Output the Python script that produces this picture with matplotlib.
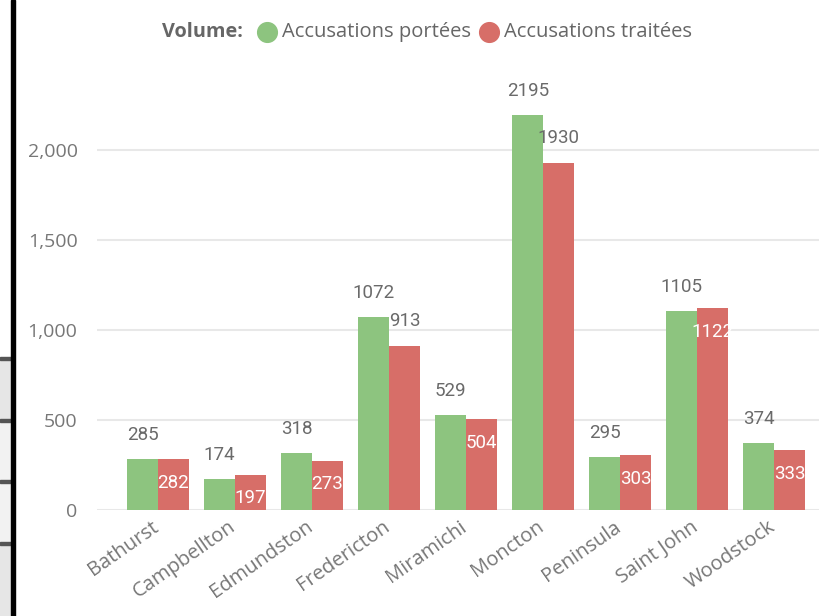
import matplotlib.pyplot as plt
from matplotlib.lines import Line2D
from matplotlib.patches import Rectangle
from matplotlib.transforms import ScaledTranslation
import numpy as np

districts = ['Bathurst', 'Campbellton', 'Edmundston', 'Fredericton', 'Miramichi',
             'Moncton', 'Peninsula', 'Saint John', 'Woodstock']
portees = [285, 174, 318, 1072, 529, 2195, 295, 1105, 374]
traitees = [282, 197, 273, 913, 504, 1930, 303, 1122, 333]
# where each "traitées" label sits (inside the bar top or above it)
traitees_pos = ['in', 'in', 'in', 'out', 'in', 'out', 'in', 'in', 'in']
series_names = ['Accusations portées', 'Accusations traitées']

GREEN = '#8DC47F'
RED = '#D76E68'
GRAY = '#777777'
W, H = 819, 616

plt.rcParams['font.family'] = ['Open Sans', 'DejaVu Sans']

fig = plt.figure(figsize=(W / 100, H / 100), dpi=100)
ax = fig.add_axes([97 / W, 1 - 510 / H, 1 - 97 / W, 430 / H])

x = np.arange(len(districts))
w = 0.4
b1 = ax.bar(x - w / 2, portees, w, color=GREEN, zorder=3)
b2 = ax.bar(x + w / 2, traitees, w, color=RED, zorder=3)

ax.set_xlim(-0.79, 8.58)
ax.set_ylim(0, 2000 * 430 / 360)
ax.set_yticks([0, 500, 1000, 1500, 2000])
ax.set_yticklabels(['0', '500', '1,000', '1,500', '2,000'])
ax.grid(axis='y', color='#e8e8e8', linewidth=1.5, zorder=0)
for s in ax.spines.values():
    s.set_visible(False)
ax.tick_params(axis='y', length=0, pad=14, labelsize=14, labelcolor=GRAY)
ax.set_xticks(x)
ax.set_xticklabels(districts, rotation=35, ha='right', rotation_mode='anchor')
ax.tick_params(axis='x', length=0, pad=5, labelsize=14.5, labelcolor=GRAY)
shift = ScaledTranslation(-7 / 100, 0, fig.dpi_scale_trans)
for t in ax.get_xticklabels():
    t.set_transform(t.get_transform() + shift)

lab_font = dict(family=['Roboto', 'DejaVu Sans'], fontsize=13.5)
for rect, v in zip(b1, portees):
    ax.annotate(str(v), (rect.get_x() + rect.get_width() / 2, v),
                xytext=(0, 17), textcoords='offset points',
                ha='center', va='center', color='#6a6a6a', zorder=5, **lab_font)
for rect, v, pos in zip(b2, traitees, traitees_pos):
    if pos == 'in':
        dy, col = -17, 'white'
    else:
        dy, col = 18, '#6a6a6a'
    ax.annotate(str(v), (rect.get_x() + rect.get_width() / 2, v),
                xytext=(0, dy), textcoords='offset points',
                ha='center', va='center', color=col, zorder=5, **lab_font)

# legend, laid out by hand
ly = 1 - 32 / H
fig.text(243 / W, ly, 'Volume:', ha='right', va='center',
         fontsize=14.3, fontweight='bold', color='#666666')
renderer = fig.canvas.get_renderer()
cx = 267
for name, col in zip(series_names, [GREEN, RED]):
    fig.add_artist(Line2D([cx / W], [ly], marker='o', markersize=14.2, color=col,
                          linestyle='', transform=fig.transFigure))
    t = fig.text((cx + 15) / W, ly, name, ha='left', va='center',
                 fontsize=14.5, color='#666666')
    bb = t.get_window_extent(renderer)
    cx = bb.x1 + 18

# left edge artifacts (neighbouring table and border)
fig.patches.append(Rectangle((11 / W, 0), 4 / W, 1, transform=fig.transFigure,
                             color='black', zorder=10))
rows = [(358, 420, '#e6e6e6'), (420, 481, '#f2f2f2'),
        (481, 543, '#f2f2f2'), (543, 616, '#e6e6e6')]
for top, bot, c in rows:
    fig.patches.append(Rectangle((0, 1 - bot / H), 11 / W, (bot - top) / H,
                                 transform=fig.transFigure, facecolor=c,
                                 edgecolor='none', zorder=9))
    fig.patches.append(Rectangle((0, 1 - (top + 1.5) / H), 12 / W, 2.5 / H,
                                 transform=fig.transFigure, color='#555555', zorder=9))

fig.savefig('out.png', dpi=100)
